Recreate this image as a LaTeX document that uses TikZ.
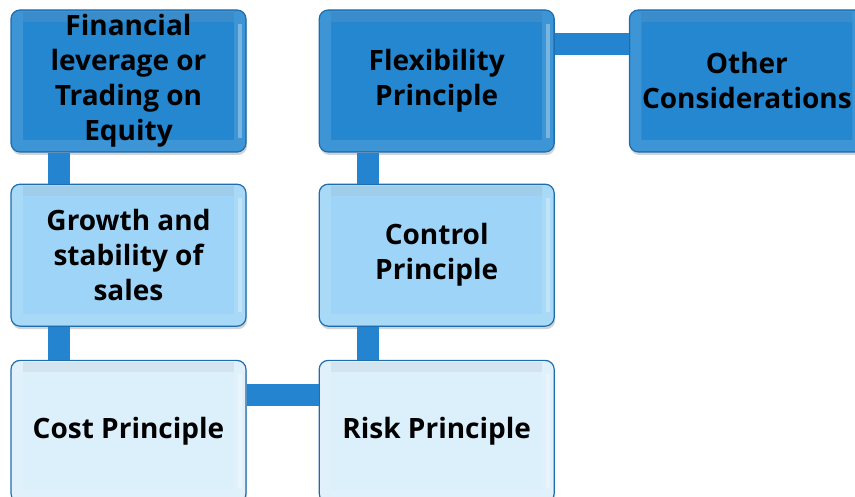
\documentclass[tikz,border=0pt]{standalone}
\usepackage{fontspec}
\setmainfont{Open Sans}
\usetikzlibrary{positioning,shadows}

\definecolor{darkbox}{HTML}{2487D0}
\definecolor{midbox}{HTML}{9DD4F7}
\definecolor{palebox}{HTML}{DCF0FC}
\definecolor{boxline}{HTML}{1E6DAE}
\definecolor{linkblue}{HTML}{2484CF}

\tikzset{
  stage/.style={rounded corners=9pt, minimum width=235pt, minimum height=142pt,
    draw=boxline, line width=1.2pt, align=center,
    font=\bfseries\fontsize{28}{35}\selectfont,
    drop shadow={opacity=.35, shadow xshift=1pt, shadow yshift=-3pt},
    path picture={
      \fill[white,opacity=.12,even odd rule,sharp corners]
        ([shift={(1pt,-1pt)}]path picture bounding box.north west) rectangle
        ([shift={(-1pt,1pt)}]path picture bounding box.south east)
        ([shift={(12pt,-12pt)}]path picture bounding box.north west) rectangle
        ([shift={(-12pt,12pt)}]path picture bounding box.south east);
      \fill[white,opacity=.3,sharp corners]
        ([shift={(-8pt,-14pt)}]path picture bounding box.north east) rectangle
        ([shift={(-4pt,14pt)}]path picture bounding box.south east);
      \fill[black,opacity=.05,sharp corners]
        ([shift={(12pt,-2pt)}]path picture bounding box.north west) rectangle
        ([shift={(-12pt,-12pt)}]path picture bounding box.north east);
    }},
  level1/.style={stage, fill=darkbox},
  level2/.style={stage, fill=midbox},
  level3/.style={stage, fill=palebox},
  link/.style={line width=22pt, linkblue}
}

\begin{document}
\begin{tikzpicture}[x=1pt,y=1pt]
\useasboundingbox (0,0) rectangle (855,497);

% snake of boxes
\node[level1] (fin) at (128.5,416) {Financial\\leverage or\\Trading on\\Equity};
\node[level2, below=31pt of fin] (grow) {Growth and\\stability of\\sales};
\node[level3, below=33pt of grow] (cost) {Cost Principle};
\node[level3, right=72pt of cost] (risk) {Risk Principle};
\node[level2, above=33pt of risk] (ctrl) {Control\\Principle};
\node[level1, above=31pt of ctrl] (flex) {Flexibility\\Principle};
\node[level1, right=74pt of flex] (other) {Other\\Considerations};

% links
\draw[link] ([xshift=49pt]fin.south west) -- ([xshift=49pt]grow.north west);
\draw[link] ([xshift=49pt]grow.south west) -- ([xshift=49pt]cost.north west);
\draw[link] ([yshift=-35pt]cost.north east) -- ([yshift=-35pt]risk.north west);
\draw[link] ([xshift=49pt]risk.north west) -- ([xshift=49pt]ctrl.south west);
\draw[link] ([xshift=49pt]ctrl.north west) -- ([xshift=49pt]flex.south west);
\draw[link] ([yshift=-35pt]flex.north east) -- ([yshift=-35pt]other.north west);

\end{tikzpicture}
\end{document}
